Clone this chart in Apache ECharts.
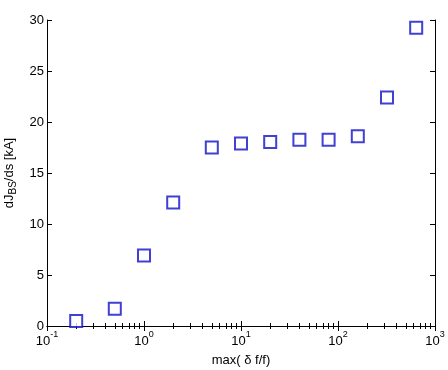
<!DOCTYPE html>
<html>
<head>
<meta charset="utf-8">
<script src="https://cdn.jsdelivr.net/npm/echarts@6/dist/echarts.min.js"></script>
<style>
  html, body { margin: 0; padding: 0; background: #fff; }
  #chart { width: 448px; height: 370px; }
</style>
</head>
<body>
<div id="chart"></div>
<script>
// data
var xValues = [0.2, 0.5, 1, 2, 5, 10, 20, 40, 80, 160, 320, 640]
var yValues = [0.5, 1.7, 6.9, 12.1, 17.5, 17.9, 18.05, 18.25, 18.25, 18.6, 22.4, 29.25]
var yTicks = [0, 5, 10, 15, 20, 25, 30]
var xExponents = { 0.1: '-1', 1: '0', 10: '1', 100: '2', 1000: '3' }

var font = 'Liberation Sans, Arial, sans-serif'
var chart = echarts.init(document.getElementById('chart'))

var points = xValues.map(function (x, i) { return [x, yValues[i]] })

var tickStyle = { show: true, inside: true, length: 5, lineStyle: { color: '#000', width: 1 } }
var minorStyle = { show: true, splitNumber: 9, length: 3, lineStyle: { color: '#000', width: 1 } }

var option = {
  animation: false,
  backgroundColor: '#fff',
  grid: { left: 47, right: 13, top: 20, bottom: 44, containLabel: false, outerBoundsMode: 'none' },
  xAxis: [
    {
      type: 'log',
      logBase: 10,
      min: 0.1,
      max: 1000,
      name: 'max( δ f/f)',
      nameLocation: 'middle',
      nameGap: 28,
      nameTextStyle: { fontFamily: font, fontSize: 13, color: '#000' },
      axisLine: { lineStyle: { color: '#000', width: 1 } },
      axisTick: tickStyle,
      minorTick: minorStyle,
      splitLine: { show: false },
      axisLabel: {
        margin: 3,
        formatter: function (v) {
          var key = String(+v.toPrecision(3))
          return '{b|10}{s|' + xExponents[key] + '}'
        },
        rich: {
          b: { fontFamily: font, fontSize: 13, color: '#000', padding: [6, 0, 0, 0] },
          s: { fontFamily: font, fontSize: 9, color: '#000', padding: [0, 0, 7, 0] }
        }
      }
    },
    {
      type: 'log',
      logBase: 10,
      min: 0.1,
      max: 1000,
      position: 'top',
      axisLine: { show: true, lineStyle: { color: '#000', width: 1 } },
      axisTick: tickStyle,
      minorTick: minorStyle,
      axisLabel: { show: false },
      splitLine: { show: false }
    }
  ],
  yAxis: [
    {
      type: 'value',
      min: 0,
      max: 30,
      interval: 5,
      name: 'dJ{sub|BS}/ds [kA]',
      nameLocation: 'middle',
      nameGap: 27,
      nameRotate: 90,
      nameTextStyle: {
        fontFamily: font, fontSize: 13, color: '#000',
        rich: { sub: { fontFamily: font, fontSize: 10, color: '#000', padding: [9, 0, 0, 0] } }
      },
      axisLine: { show: true, lineStyle: { color: '#000', width: 1 } },
      axisTick: tickStyle,
      splitLine: { show: false },
      axisLabel: {
        margin: 3,
        fontFamily: font, fontSize: 13, color: '#000',
        formatter: function (v) { return yTicks.indexOf(v) >= 0 ? String(v) : '' }
      }
    },
    {
      type: 'value',
      min: 0,
      max: 30,
      interval: 5,
      position: 'right',
      axisLine: { show: true, lineStyle: { color: '#000', width: 1 } },
      axisTick: tickStyle,
      axisLabel: { show: false },
      splitLine: { show: false }
    }
  ],
  series: [
    {
      type: 'scatter',
      data: points,
      symbol: 'rect',
      symbolSize: 12,
      itemStyle: { color: '#fff', borderColor: '#1010c8', borderWidth: 2 }
    }
  ]
}

chart.setOption(option)
</script>
</body>
</html>
